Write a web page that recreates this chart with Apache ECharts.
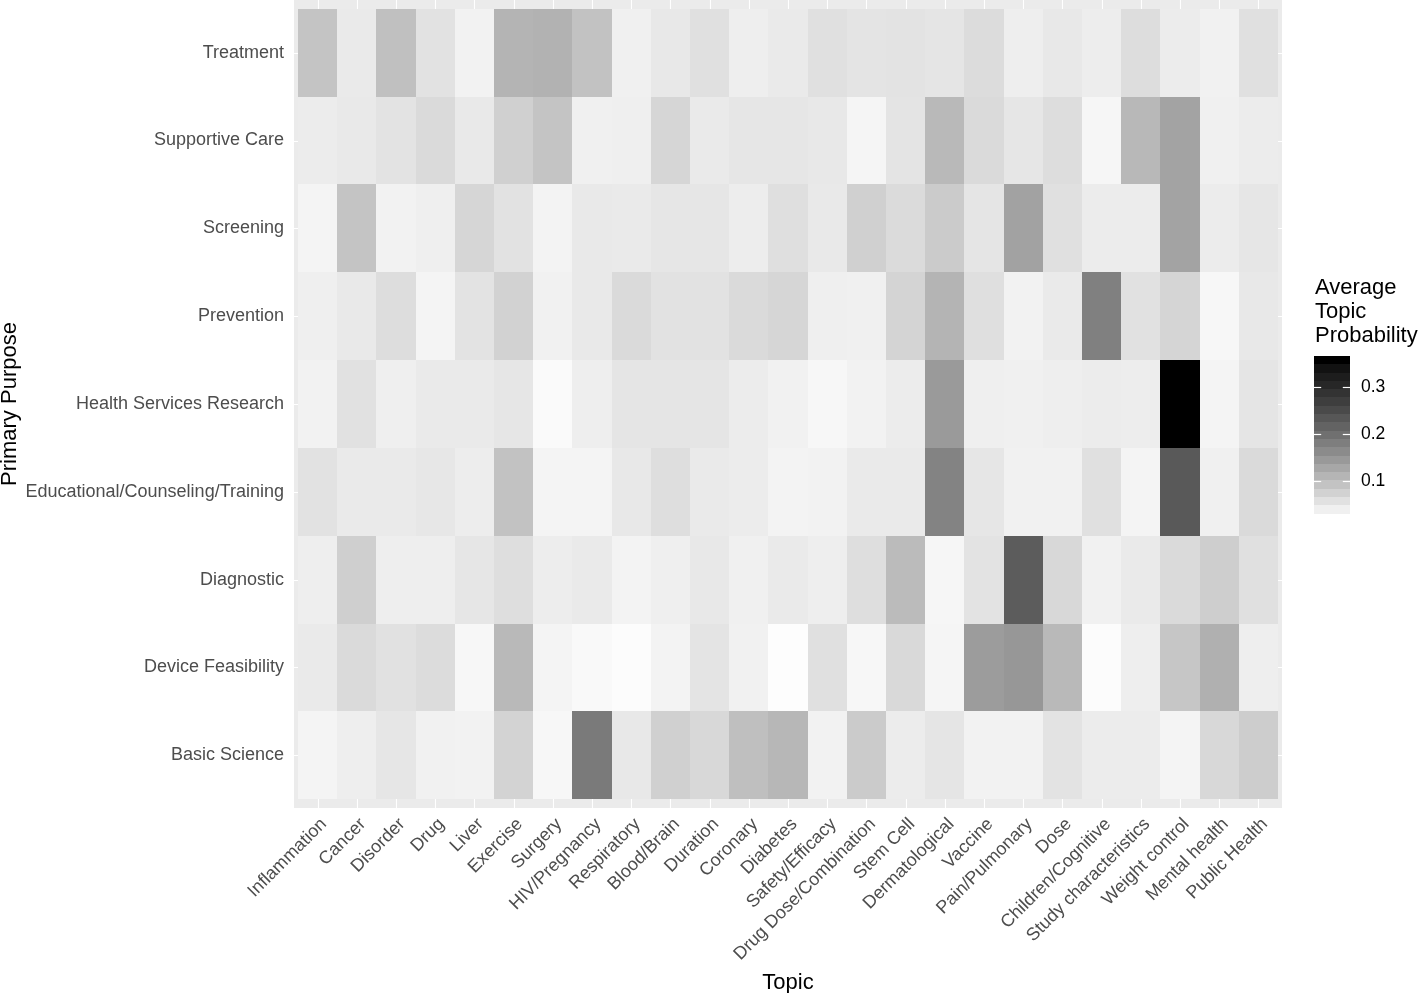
<!DOCTYPE html>
<html>
<head>
<meta charset="utf-8">
<script src="https://cdn.jsdelivr.net/npm/echarts@6/dist/echarts.min.js"></script>
<style>
  html, body { margin: 0; padding: 0; background: #ffffff; }
  #chart { width: 1418px; height: 993px; }
</style>
</head>
<body>
<div id="chart"></div>
<script>
// ---- categories ----
const topics = ['Inflammation', 'Cancer', 'Disorder', 'Drug', 'Liver', 'Exercise', 'Surgery',
  'HIV/Pregnancy', 'Respiratory', 'Blood/Brain', 'Duration', 'Coronary', 'Diabetes',
  'Safety/Efficacy', 'Drug Dose/Combination', 'Stem Cell', 'Dermatological', 'Vaccine',
  'Pain/Pulmonary', 'Dose', 'Children/Cognitive', 'Study characteristics', 'Weight control',
  'Mental health', 'Public Health'];

// bottom to top
const purposes = ['Basic Science', 'Device Feasibility', 'Diagnostic',
  'Educational/Counseling/Training', 'Health Services Research', 'Prevention',
  'Screening', 'Supportive Care', 'Treatment'];

// ---- average topic probability per purpose (one value per topic) ----
const basicScience = [0.035, 0.042, 0.051, 0.038, 0.037, 0.074, 0.031, 0.186, 0.049, 0.077, 0.068, 0.098, 0.108,
  0.037, 0.084, 0.044, 0.052, 0.037, 0.037, 0.055, 0.044, 0.044, 0.035, 0.068, 0.081];
const deviceFeasibility = [0.047, 0.066, 0.057, 0.063, 0.031, 0.105, 0.035, 0.029, 0.026, 0.036, 0.054, 0.038, 0.024,
  0.058, 0.031, 0.067, 0.034, 0.142, 0.148, 0.105, 0.026, 0.042, 0.090, 0.117, 0.042];
const diagnostic = [0.042, 0.079, 0.042, 0.042, 0.051, 0.061, 0.043, 0.047, 0.036, 0.041, 0.049, 0.040, 0.047,
  0.042, 0.061, 0.103, 0.033, 0.055, 0.227, 0.068, 0.038, 0.046, 0.066, 0.080, 0.058];
const educational = [0.056, 0.046, 0.046, 0.050, 0.043, 0.095, 0.035, 0.035, 0.049, 0.061, 0.046, 0.044, 0.036,
  0.037, 0.046, 0.047, 0.174, 0.051, 0.038, 0.038, 0.058, 0.035, 0.231, 0.040, 0.066];
const healthServices = [0.037, 0.057, 0.041, 0.046, 0.047, 0.051, 0.028, 0.042, 0.052, 0.052, 0.052, 0.044, 0.038,
  0.031, 0.037, 0.044, 0.144, 0.041, 0.040, 0.042, 0.044, 0.043, 0.358, 0.035, 0.052];
const prevention = [0.041, 0.048, 0.062, 0.035, 0.055, 0.075, 0.038, 0.048, 0.066, 0.056, 0.056, 0.066, 0.070,
  0.041, 0.040, 0.073, 0.112, 0.060, 0.037, 0.046, 0.178, 0.057, 0.072, 0.031, 0.049];
const screening = [0.035, 0.092, 0.037, 0.041, 0.070, 0.056, 0.036, 0.048, 0.046, 0.051, 0.051, 0.043, 0.060,
  0.048, 0.077, 0.064, 0.084, 0.052, 0.134, 0.058, 0.044, 0.044, 0.133, 0.044, 0.051];
const supportiveCare = [0.044, 0.048, 0.055, 0.066, 0.048, 0.077, 0.092, 0.040, 0.041, 0.070, 0.047, 0.051, 0.051,
  0.049, 0.034, 0.054, 0.106, 0.066, 0.051, 0.062, 0.033, 0.107, 0.133, 0.040, 0.044];
const treatment = [0.092, 0.046, 0.097, 0.056, 0.037, 0.112, 0.114, 0.095, 0.040, 0.049, 0.058, 0.042, 0.046,
  0.058, 0.054, 0.055, 0.052, 0.063, 0.042, 0.049, 0.043, 0.062, 0.044, 0.038, 0.058];

const rowsBottomUp = [basicScience, deviceFeasibility, diagnostic, educational, healthServices,
  prevention, screening, supportiveCare, treatment];

// ---- colour scale ----
const scaleMin = 0.022, scaleMax = 0.358;
const legendBreaks = [0.1, 0.2, 0.3];
const legendBins = 20;

const FONT = '"Liberation Sans", Arial, Helvetica, sans-serif';

// white -> black interpolated in CIE Lab (lightness)
function grayFor(v) {
  let t = (v - scaleMin) / (scaleMax - scaleMin);
  t = Math.max(0, Math.min(1, t));
  const L = 100 * (1 - t);
  const fy = (L + 16) / 116;
  const Y = L > 8 ? fy * fy * fy : L / 903.3;
  const s = Y <= 0.0031308 ? 12.92 * Y : 1.055 * Math.pow(Y, 1 / 2.4) - 0.055;
  const g = Math.round(255 * Math.max(0, Math.min(1, s)));
  return 'rgb(' + g + ',' + g + ',' + g + ')';
}

const cellData = [];
rowsBottomUp.forEach((row, yi) => row.forEach((v, xi) => cellData.push([xi, yi, v])));

const binStep = (scaleMax - scaleMin) / (legendBins - 1);
const binData = [];
for (let i = 0; i < legendBins; i++) binData.push([scaleMin + i * binStep]);

const topicIdx = topics.map((_, i) => i);
const purposeIdx = purposes.map((_, i) => i);

const chart = echarts.init(document.getElementById('chart'), null, { renderer: 'canvas' });

const option = {
  animation: false,
  backgroundColor: '#ffffff',
  grid: [
    { left: 294, top: 0, width: 988, height: 808, show: true, backgroundColor: '#ebebeb', borderWidth: 0,
      containLabel: false, outerBoundsMode: 'none' },
    { left: 1314, top: 356, width: 36, height: 166, show: false, containLabel: false, outerBoundsMode: 'none' }
  ],
  xAxis: [
    {
      type: 'value', gridIndex: 0, min: -0.6, max: 24.6,
      axisLine: { show: false },
      splitLine: { show: false },
      axisTick: { show: true, customValues: topicIdx, length: 5, lineStyle: { color: '#333333', width: 1.1 } },
      axisLabel: {
        customValues: topicIdx, rotate: 45, margin: 7,
        align: 'right', verticalAlign: 'top',
        fontFamily: FONT, fontSize: 18, color: '#4d4d4d',
        formatter: v => topics[Math.round(v)]
      },
      name: 'Topic', nameLocation: 'middle', nameGap: 164,
      nameTextStyle: { fontFamily: FONT, fontSize: 22, color: '#000000' }
    },
    { type: 'value', gridIndex: 1, min: 0, max: 1, show: false }
  ],
  yAxis: [
    {
      type: 'value', gridIndex: 0, min: -0.6, max: 8.6,
      axisLine: { show: false },
      splitLine: { show: false },
      axisTick: { show: true, customValues: purposeIdx, length: 5, lineStyle: { color: '#333333', width: 1.1 } },
      axisLabel: {
        customValues: purposeIdx, margin: 10,
        fontFamily: FONT, fontSize: 18, color: '#4d4d4d',
        formatter: v => purposes[Math.round(v)]
      }
    },
    {
      type: 'value', gridIndex: 1, position: 'right',
      min: scaleMin - binStep / 2, max: scaleMax + binStep / 2,
      axisLine: { show: false }, axisTick: { show: false }, splitLine: { show: false },
      axisLabel: {
        customValues: legendBreaks, margin: 11,
        fontFamily: FONT, fontSize: 17.5, color: '#000000',
        formatter: v => v.toFixed(1)
      }
    }
  ],
  graphic: [
    {
      type: 'text', x: 10, y: 404, rotation: Math.PI / 2,
      style: {
        text: 'Primary Purpose', fontFamily: FONT, fontSize: 22, fill: '#000000',
        align: 'center', verticalAlign: 'middle'
      }
    },
    {
      type: 'text', left: 1315, top: 276,
      style: {
        text: 'Average\nTopic\nProbability',
        fontFamily: FONT, fontSize: 22, lineHeight: 24, fill: '#000000'
      }
    }
  ],
  series: [
    // white major grid lines (visible only in panel margins)
    {
      type: 'custom', xAxisIndex: 0, yAxisIndex: 0, z: 1, silent: true,
      data: topicIdx.map(i => [i]),
      renderItem: (params, api) => {
        const x = api.value(0);
        const a = api.coord([x, -0.6]), b = api.coord([x, 8.6]);
        const px = Math.round(a[0]) + 0.5;
        return { type: 'line', shape: { x1: px, y1: a[1], x2: px, y2: b[1] },
          style: { stroke: '#ffffff', lineWidth: 1.1 } };
      }
    },
    {
      type: 'custom', xAxisIndex: 0, yAxisIndex: 0, z: 1, silent: true,
      data: purposeIdx.map(i => [0, i]),
      renderItem: (params, api) => {
        const y = api.value(1);
        const a = api.coord([-0.6, y]), b = api.coord([24.6, y]);
        const py = Math.round(a[1]) + 0.5;
        return { type: 'line', shape: { x1: a[0], y1: py, x2: b[0], y2: py },
          style: { stroke: '#ffffff', lineWidth: 1.1 } };
      }
    },
    // tiles
    {
      type: 'custom', xAxisIndex: 0, yAxisIndex: 0, z: 2,
      data: cellData,
      renderItem: (params, api) => {
        const x = api.value(0), y = api.value(1), v = api.value(2);
        const p1 = api.coord([x - 0.5, y + 0.5]);
        const p2 = api.coord([x + 0.5, y - 0.5]);
        const x0 = Math.round(p1[0]), x1 = Math.round(p2[0]);
        const y0 = Math.round(p1[1]), y1 = Math.round(p2[1]);
        return { type: 'rect', shape: { x: x0, y: y0, width: x1 - x0, height: y1 - y0 },
          style: { fill: grayFor(v), stroke: null } };
      }
    },
    // colour bar
    {
      type: 'custom', xAxisIndex: 1, yAxisIndex: 1, z: 2, silent: true,
      data: binData,
      renderItem: (params, api) => {
        const v = api.value(0);
        const p1 = api.coord([0, v + binStep / 2]);
        const p2 = api.coord([1, v - binStep / 2]);
        const y0 = Math.round(p1[1]), y1 = Math.round(p2[1]);
        return { type: 'rect', shape: { x: p1[0], y: y0, width: p2[0] - p1[0], height: y1 - y0 },
          style: { fill: grayFor(v) } };
      }
    },
    // colour bar ticks
    {
      type: 'custom', xAxisIndex: 1, yAxisIndex: 1, z: 3, silent: true,
      data: legendBreaks.map(b => [b]),
      renderItem: (params, api) => {
        const v = api.value(0);
        const a = api.coord([0, v]), b = api.coord([0.2, v]);
        const c = api.coord([0.8, v]), d = api.coord([1, v]);
        const y = Math.round(a[1]) + 0.5;
        return { type: 'group', children: [
          { type: 'line', shape: { x1: a[0], y1: y, x2: b[0], y2: y }, style: { stroke: '#ffffff', lineWidth: 1.2 } },
          { type: 'line', shape: { x1: c[0], y1: y, x2: d[0], y2: y }, style: { stroke: '#ffffff', lineWidth: 1.2 } }
        ] };
      }
    }
  ]
};

chart.setOption(option);
</script>
</body>
</html>
